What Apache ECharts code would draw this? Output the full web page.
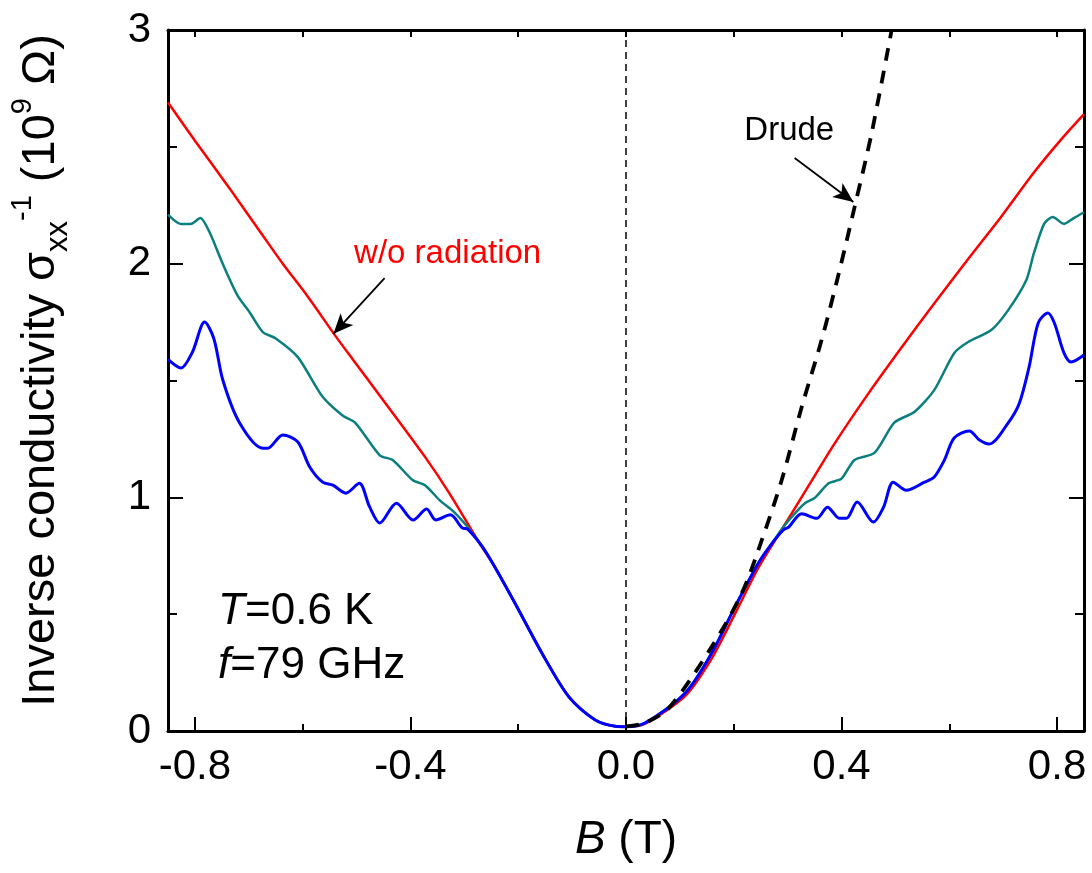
<!DOCTYPE html>
<html>
<head>
<meta charset="utf-8">
<script src="https://cdn.jsdelivr.net/npm/echarts@6/dist/echarts.min.js"></script>
<style>
html,body{margin:0;padding:0;background:#fff;}
#c{width:1092px;height:873px;}
</style>
</head>
<body>
<div id="c"></div>
<script>
// ---- data (B in tesla, value in 10^9 Ohm) ----
const redB = [-0.85,-0.798,-0.735,-0.68,-0.637,-0.594,-0.539,-0.507,-0.452,-0.372,-0.328,-0.272,-0.243,-0.206,-0.156,-0.106,-0.057,-0.02,0,0.035,0.11,0.159,0.202,0.246,0.292,0.339,0.387,0.45,0.511,0.572,0.635,0.696,0.757,0.807,0.85];
const redV = [2.69,2.52,2.32,2.14,2.0,1.87,1.69,1.59,1.42,1.17,1.018,0.804,0.70,0.547,0.333,0.146,0.047,0.02,0.018,0.03,0.15,0.31,0.50,0.70,0.873,1.05,1.23,1.445,1.64,1.83,2.02,2.2,2.39,2.53,2.64];

const tealB = [-0.85,-0.826,-0.808,-0.79,-0.772,-0.754,-0.735,-0.72,-0.698,-0.674,-0.65,-0.609,-0.563,-0.526,-0.502,-0.457,-0.433,-0.396,-0.372,-0.346,-0.319,-0.294,-0.267,-0.243,-0.206,-0.156,-0.106,-0.057,-0.02,0,0.035,0.11,0.159,0.202,0.246,0.27,0.292,0.313,0.332,0.35,0.376,0.4,0.424,0.461,0.498,0.535,0.572,0.609,0.635,0.678,0.709,0.743,0.757,0.776,0.792,0.813,0.831,0.85];
const tealV = [2.21,2.17,2.17,2.195,2.13,2.03,1.93,1.86,1.79,1.707,1.68,1.60,1.43,1.35,1.318,1.18,1.16,1.074,1.05,0.988,0.937,0.873,0.79,0.70,0.547,0.333,0.146,0.047,0.02,0.018,0.034,0.163,0.333,0.53,0.72,0.80,0.873,0.93,0.975,0.997,1.06,1.08,1.16,1.19,1.32,1.365,1.459,1.617,1.665,1.716,1.80,1.93,2.045,2.17,2.20,2.17,2.195,2.22];

const blueB = [-0.85,-0.826,-0.805,-0.782,-0.765,-0.748,-0.717,-0.674,-0.665,-0.637,-0.609,-0.587,-0.563,-0.544,-0.52,-0.495,-0.476,-0.457,-0.426,-0.395,-0.37,-0.353,-0.326,-0.304,-0.294,-0.267,-0.243,-0.206,-0.156,-0.106,-0.057,-0.02,0,0.035,0.11,0.159,0.202,0.246,0.27,0.292,0.302,0.326,0.354,0.374,0.396,0.409,0.429,0.459,0.478,0.496,0.52,0.554,0.572,0.591,0.609,0.637,0.656,0.674,0.709,0.73,0.748,0.765,0.783,0.795,0.813,0.826,0.85];
const blueV = [1.59,1.553,1.62,1.75,1.68,1.50,1.318,1.21,1.21,1.267,1.237,1.13,1.065,1.052,1.018,1.06,0.96,0.89,0.975,0.903,0.95,0.903,0.925,0.869,0.864,0.79,0.70,0.547,0.333,0.146,0.047,0.02,0.018,0.034,0.163,0.333,0.53,0.72,0.80,0.86,0.873,0.93,0.91,0.958,0.91,0.91,0.98,0.894,0.958,1.065,1.03,1.065,1.087,1.16,1.254,1.284,1.245,1.228,1.318,1.403,1.557,1.746,1.789,1.746,1.617,1.579,1.609];

const drudeB = [0,0.035,0.08,0.159,0.215,0.252,0.289,0.326,0.363,0.394,0.424,0.456,0.493];
const drudeV = [0.02,0.034,0.10,0.36,0.59,0.817,1.074,1.386,1.673,1.95,2.24,2.56,3.0];

const zeroLineB = [0, 0];
const zeroLineV = [0, 3];

const xMajorTicks = [-0.8,-0.4,0,0.4,0.8];
const xMinorTicks = [-0.6,-0.2,0.2,0.6];

// annotations: [tailB, tailV, tipB, tipV]
const arrowRad = [-0.448, 1.938, -0.543, 1.70];
const arrowDrude = [0.313, 2.452, 0.422, 2.264];

// ---- chart ----
const zip = (a, b) => a.map((x, i) => [x, b[i]]);
const FONT = "'Liberation Sans', Arial, Helvetica, sans-serif";
const chart = echarts.init(document.getElementById('c'), null, {renderer: 'canvas'});

const xCommon = {type: 'value', min: -0.85, max: 0.85, splitLine: {show: false}};
const yCommon = {type: 'value', min: 0, max: 3, interval: 1, splitLine: {show: false}};

const option = {
  backgroundColor: '#fff',
  animation: false,
  grid: {left: 164, right: 8, top: 30, bottom: 142, containLabel: false},
  xAxis: [
    Object.assign({}, xCommon, {
      position: 'bottom',
      name: '{i|B} (T)', nameLocation: 'middle', nameGap: 86,
      nameTextStyle: {fontFamily: FONT, fontSize: 46, color: '#000',
        rich: {i: {fontFamily: FONT, fontSize: 46, fontStyle: 'italic', color: '#000'}}},
      axisLine: {show: true, onZero: false, lineStyle: {color: '#000', width: 3}},
      axisTick: {show: true, inside: true, length: 14, customValues: xMajorTicks, lineStyle: {color: '#000', width: 2}},
      axisLabel: {show: true, margin: 15, customValues: xMajorTicks, fontFamily: FONT, fontSize: 42, color: '#000',
        formatter: v => (Math.abs(v) < 1e-9 ? 0 : v).toFixed(1)}
    }),
    Object.assign({}, xCommon, {
      position: 'bottom',
      axisLine: {show: false, onZero: false},
      axisTick: {show: true, inside: true, length: 7, customValues: xMinorTicks, lineStyle: {color: '#000', width: 2}},
      axisLabel: {show: false}
    }),
    Object.assign({}, xCommon, {
      position: 'top',
      axisLine: {show: true, onZero: false, lineStyle: {color: '#000', width: 3}},
      axisTick: {show: true, inside: true, length: 7, customValues: xMajorTicks.concat(xMinorTicks), lineStyle: {color: '#000', width: 2}},
      axisLabel: {show: false}
    })
  ],
  yAxis: [
    Object.assign({}, yCommon, {
      position: 'left',
      name: 'Inverse conductivity σ{sub|xx}{sup|-1} (10{sup2|9} Ω)',
      nameLocation: 'middle', nameGap: 94,
      nameTextStyle: {fontFamily: FONT, fontSize: 47, color: '#000', lineHeight: 66, padding: [0, 0, 0, 20],
        rich: {
          sub: {fontFamily: FONT, fontSize: 31, color: '#000', verticalAlign: 'bottom', lineHeight: 66},
          sup: {fontFamily: FONT, fontSize: 29, color: '#000', verticalAlign: 'top', lineHeight: 66},
          sup2: {fontFamily: FONT, fontSize: 29, color: '#000', verticalAlign: 'top', lineHeight: 66}
        }},
      axisLine: {show: true, onZero: false, lineStyle: {color: '#000', width: 3}},
      axisTick: {show: true, inside: true, length: 15, lineStyle: {color: '#000', width: 2}},
      minorTick: {show: true, splitNumber: 2, length: 9, lineStyle: {color: '#000', width: 2}},
      axisLabel: {show: true, margin: 17, fontFamily: FONT, fontSize: 42, color: '#000'}
    }),
    Object.assign({}, yCommon, {
      position: 'right',
      axisLine: {show: true, onZero: false, lineStyle: {color: '#000', width: 3}},
      axisTick: {show: true, inside: true, length: 15, lineStyle: {color: '#000', width: 2}},
      minorTick: {show: true, splitNumber: 2, length: 9, lineStyle: {color: '#000', width: 2}},
      axisLabel: {show: false}
    })
  ],
  series: [
    {name: 'w/o radiation', type: 'line', data: zip(redB, redV), showSymbol: false, smooth: 0.25,
      lineStyle: {color: '#ff0000', width: 2.5}, itemStyle: {color: '#ff0000'}, z: 2},
    {name: 'teal', type: 'line', data: zip(tealB, tealV), showSymbol: false, smooth: 0.25,
      lineStyle: {color: '#0b7f7f', width: 2.5}, itemStyle: {color: '#0b7f7f'}, z: 3},
    {name: 'blue', type: 'line', data: zip(blueB, blueV), showSymbol: false, smooth: 0.3,
      lineStyle: {color: '#0000ff', width: 3}, itemStyle: {color: '#0000ff'}, z: 4},
    {name: 'Drude', type: 'line', data: zip(drudeB, drudeV), showSymbol: false, smooth: 0.3,
      lineStyle: {color: '#000', width: 3.8, type: [13, 10]}, itemStyle: {color: '#000'}, z: 5,
      markLine: {silent: true, symbol: ['none', 'arrow'], symbolSize: [13, 20], label: {show: false},
        lineStyle: {color: '#000', width: 1.8, type: 'solid'},
        data: [
          [{coord: [arrowRad[0], arrowRad[1]]}, {coord: [arrowRad[2], arrowRad[3]]}],
          [{coord: [arrowDrude[0], arrowDrude[1]]}, {coord: [arrowDrude[2], arrowDrude[3]]}]
        ]}},
    {name: 'zero', type: 'line', data: zip(zeroLineB, zeroLineV), showSymbol: false,
      lineStyle: {color: '#000', width: 1.5, type: [7, 5]}, z: 6}
  ]
};
chart.setOption(option);

// text annotations positioned in data space
const labels = [
  {at: [-0.331, 2.04], text: 'w/o radiation', color: '#ff0000', size: 33, align: 'center'},
  {at: [0.303, 2.57], text: 'Drude', color: '#000', size: 33, align: 'center'}
];
const gfx = labels.map(l => {
  const p = chart.convertToPixel({gridIndex: 0}, l.at);
  return {type: 'text', x: p[0], y: p[1], z: 10,
    style: {text: l.text, fill: l.color, font: l.size + 'px ' + FONT, align: l.align, verticalAlign: 'middle'}};
});
const condPos = chart.convertToPixel({gridIndex: 0}, [-0.757, 0.394]);
gfx.push({type: 'text', x: condPos[0], y: condPos[1], z: 10,
  style: {text: '{i|T}=0.6 K\n{i|f}=79 GHz', fill: '#000', font: '44px ' + FONT, lineHeight: 54,
    align: 'left', verticalAlign: 'middle',
    rich: {i: {fontStyle: 'italic', fontSize: 44, fontFamily: FONT, fill: '#000', lineHeight: 54}}}});
chart.setOption({graphic: gfx});
</script>
</body>
</html>
